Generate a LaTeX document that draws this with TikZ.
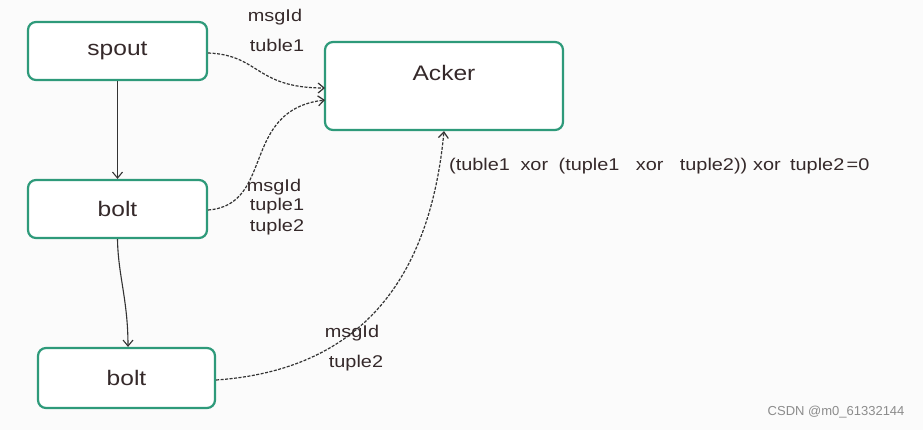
\documentclass[tikz,border=0pt]{standalone}
\usepackage{fontspec}
\setmainfont{Liberation Sans}
\usetikzlibrary{arrows.meta}
\definecolor{boxc}{HTML}{2E9A7A}
\definecolor{txt}{HTML}{35292A}
\newcommand\widetxt[1]{\scalebox{1.17}[1]{#1}}
\begin{document}
\begin{tikzpicture}[x=1pt,y=-1pt,
  box/.style={draw=boxc,line width=2.2pt,rounded corners=8pt,fill=white,text=txt,font=\fontsize{21}{24}\selectfont},
  lab/.style={text=txt,font=\fontsize{17}{19}\selectfont,inner sep=1pt},
  solidarr/.style={draw=black!80,line width=1.1pt,-{Straight Barb[length=6pt,width=10pt]}},
  dasharr/.style={draw=black!80,line width=1.2pt,dashed,dash pattern=on 3pt off 1.5pt,-{Straight Barb[length=6pt,width=10pt]}}]
\fill[white!98.5!black] (0,0) rectangle (923,430);
\useasboundingbox (0,0) rectangle (923,430);
\node[box,minimum width=179pt,minimum height=58pt] (spout) at (117.5,51) {\widetxt{spout}};
\node[box,minimum width=179pt,minimum height=58pt] (bolt1) at (117.5,209) {\widetxt{bolt}};
\node[box,minimum width=177pt,minimum height=60pt] (bolt2) at (126.5,378) {\widetxt{bolt}};
\node[box,minimum width=238pt,minimum height=88pt] (acker) at (444,86) {};
\node[text=txt,font=\fontsize{21}{24}\selectfont] (ackt) at (444,73) {\widetxt{Acker}};
\coordinate (a1) at (325,88);
\coordinate (a2) at (325,100);
\draw[solidarr] (spout.south) -- (bolt1.north);
\draw[solidarr] (bolt1.south) .. controls (118,275) and (128,300) .. (bolt2.north -| 128,0);
\draw[dasharr] (spout.east |- 0,53) .. controls (260,55) and (255,88) .. (a1);
\draw[dasharr] (bolt1.east |- 0,210) .. controls (275,205) and (240,110) .. (a2);
\draw[dasharr] (bolt2.east |- 0,380) .. controls (360,370) and (430,280) .. (acker.south);
\node[lab] (l1) at (275,17) {\widetxt{msgId}};
\node[lab] (l2) at (277,45) {\widetxt{tuble1}};
\node[lab] (l3) at (274,187) {\widetxt{msgId}};
\node[lab] (l4) at (277,206) {\widetxt{tuple1}};
\node[lab] (l5) at (277,227) {\widetxt{tuple2}};
\node[lab] (l6) at (352,333) {\widetxt{msgId}};
\node[lab] (l7) at (356,363) {\widetxt{tuple2}};
\node[lab,anchor=west] (f) at (448,166) {\widetxt{(tuble1\hspace{9pt}xor\hspace{9pt}(tuple1\hspace{14pt}xor\hspace{14pt}tuple2))\hspace{5pt}xor\hspace{8pt}tuple2\hspace{2pt}=0}};
\node[font=\fontsize{13}{15}\selectfont,text=black!45,anchor=east] (wm) at (908,412) {CSDN @m0\_61332144};
\end{tikzpicture}
\end{document}
